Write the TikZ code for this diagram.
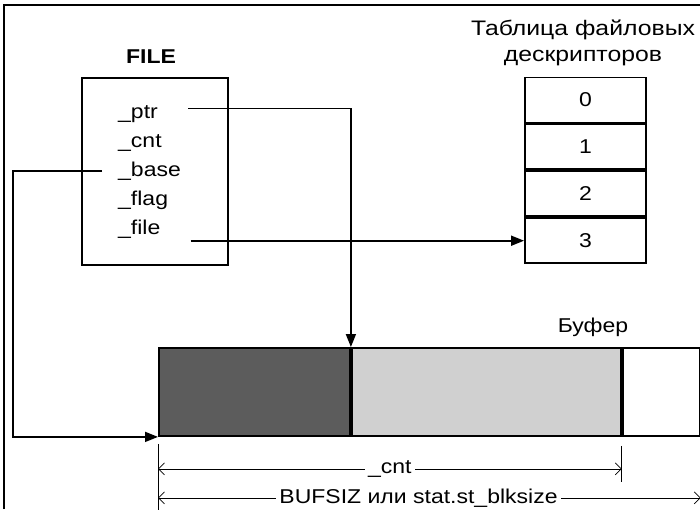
\documentclass[tikz,border=0pt]{standalone}
\usepackage{fontspec}
\setmainfont{Liberation Sans}[FakeStretch=1.15]
\usetikzlibrary{arrows.meta,positioning}
\definecolor{bufDark}{RGB}{92,92,92}
\definecolor{bufLight}{RGB}{208,208,208}
\tikzset{
  basefont/.style={font=\fontsize{20}{24}\selectfont},
  structbox/.style={rectangle,draw=black,line width=1.9pt,minimum width=146pt,minimum height=187pt},
  fieldnode/.style={basefont,anchor=base west,inner sep=0pt},
  cellnode/.style={rectangle,draw=black,line width=1.9pt,minimum width=121pt,minimum height=45pt,basefont},
  bufnode/.style={rectangle,draw=black,line width=1.9pt,minimum height=88pt,inner sep=0pt},
  ptrarr/.style={-{Triangle[length=13pt,width=10pt]},line width=1.7pt},
  dimarr/.style={{Straight Barb[length=6pt,width=12pt]}-{Straight Barb[length=6pt,width=12pt]},line width=0.7pt},
  dimtick/.style={line width=0.9pt},
  dimlabel/.style={basefont,fill=white,inner sep=3pt}
}

\begin{document}
\begin{tikzpicture}[x=1pt,y=-1pt]
  \useasboundingbox (0,0) rectangle (700,509);
  %% Outer frame
  \draw[line width=1.6pt] (4,509) -- (4,5) -- (700,5);

  %% FILE structure
  \node[basefont,font=\fontsize{20}{24}\selectfont\bfseries,anchor=base] (filetitle) at (151,63) {FILE};
  \node[structbox] (filebox) at (155,171.5) {};
  \node[fieldnode] (ptr)  at (118,118) {\_ptr};
  \node[fieldnode] (cnt)  at (118,147) {\_cnt};
  \node[fieldnode] (base) at (118,176) {\_base};
  \node[fieldnode] (flag) at (118,205) {\_flag};
  \node[fieldnode] (file) at (118,234) {\_file};

  %% Descriptor table
  \node[align=center,inner sep=0pt,font=\fontsize{21}{26}\selectfont\addfontfeature{FakeStretch=1.18}] (tabtitle) at (583,43)
    {Таблица файловых\\дескрипторов};
  \node[cellnode] (cell0) at (585.5,100) {0};
  \node[cellnode,below=0pt of cell0] (cell1) {1};
  \node[cellnode,below=0pt of cell1] (cell2) {2};
  \node[cellnode,below=0pt of cell2] (cell3) {3};

  %% Buffer
  \node[basefont,anchor=base] (buflabel) at (593,332) {Буфер};
  \node[bufnode,fill=bufDark,minimum width=191pt,anchor=north west] (bufA) at (158,347) {};
  \node[bufnode,fill=bufLight,minimum width=269pt,right=0pt of bufA] (bufB) {};
  \node[bufnode,fill=white,minimum width=77pt,right=0pt of bufB] (bufC) {};

  %% Pointers
  \draw[ptrarr] ([xshift=30pt,yshift=5pt]ptr.east) -| (bufB.north west);
  \draw[ptrarr] ([xshift=30pt]file.east |- cell3.west) -- (cell3.west);
  \draw[ptrarr] ([xshift=-16pt]base.west) -- ++(-89,0) |- (bufA.south west);

  %% Dimensions
  \draw[dimtick] ([yshift=-7pt]bufA.south west) -- ++(0,67);
  \draw[dimtick] ([yshift=-9pt]bufB.south east) -- ++(0,36);
  \draw[dimtick] ([yshift=-7pt]bufC.south east) -- ++(0,67);
  \draw[dimarr] ([yshift=-32pt]bufA.south west) -- node[dimlabel] {\_cnt} ([yshift=-32pt]bufB.south east);
  \draw[dimarr] ([yshift=-61pt]bufA.south west) -- node[dimlabel,pos=0.48] {BUFSIZ или stat.st\_blksize} ([yshift=-61pt]bufC.south east);
\end{tikzpicture}
\end{document}
